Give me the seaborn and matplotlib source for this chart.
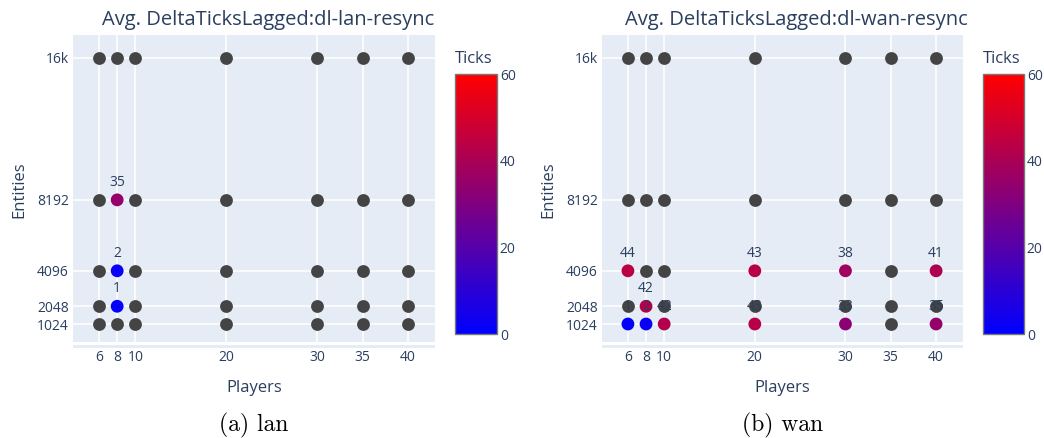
import numpy as np
import pandas as pd
import matplotlib
matplotlib.use("Agg")
import matplotlib.pyplot as plt
from matplotlib.colors import LinearSegmentedColormap, Normalize
from matplotlib.cm import ScalarMappable
from matplotlib.patches import Rectangle
import seaborn as sns

# ---- data -------------------------------------------------------------
players = [6, 8, 10, 20, 30, 35, 40]
entities = [1024, 2048, 4096, 8192, 16384]
entity_labels = ["1024", "2048", "4096", "8192", "16k"]

# Average DeltaTicksLagged per (entities, players); NaN = no lag recorded
lan_ticks = [
    # 6       8       10      20      30      35      40
    [np.nan, np.nan, np.nan, np.nan, np.nan, np.nan, np.nan],  # 1024
    [np.nan, 1,      np.nan, np.nan, np.nan, np.nan, np.nan],  # 2048
    [np.nan, 2,      np.nan, np.nan, np.nan, np.nan, np.nan],  # 4096
    [np.nan, 35,     np.nan, np.nan, np.nan, np.nan, np.nan],  # 8192
    [np.nan, np.nan, np.nan, np.nan, np.nan, np.nan, np.nan],  # 16k
]
wan_ticks = [
    [1,      2,      42,     43,     33,     np.nan, 35],      # 1024
    [np.nan, 42,     np.nan, np.nan, np.nan, np.nan, np.nan],  # 2048
    [44,     np.nan, np.nan, 43,     38,     np.nan, 41],      # 4096
    [np.nan, np.nan, np.nan, np.nan, np.nan, np.nan, np.nan],  # 8192
    [np.nan, np.nan, np.nan, np.nan, np.nan, np.nan, np.nan],  # 16k
]

panels = [
    ("Avg. DeltaTicksLagged:dl-lan-resync", "(a) lan", lan_ticks),
    ("Avg. DeltaTicksLagged:dl-wan-resync", "(b) wan", wan_ticks),
]

# ---- style ------------------------------------------------------------
sns.set_style("white")
plt.rcParams["font.family"] = ["Open Sans", "DejaVu Sans"]
TXT = "#2a3f5f"
BG = "#E5ECF6"
GREY = "#444444"
cmap = LinearSegmentedColormap.from_list("bluered", ["#0000ff", "#ff0000"])
norm = Normalize(0, 60)

W, H = 1044, 438
fig = plt.figure(figsize=(W / 100, H / 100), dpi=100)


def fx(px):
    return px / W


def fy(py):
    return 1 - py / H


layout = [
    # plot-area left/right edges and colour-bar left/right edges (pixels)
    dict(l=73, r=435, cl=455, cr=497, ylab=19),
    dict(l=602, r=963, cl=983, cr=1024, ylab=548),
]
top, bottom = 35, 342

for (title, caption, values), lay in zip(panels, layout):
    ax = fig.add_axes([fx(lay["l"]), fy(bottom), fx(lay["r"] - lay["l"]),
                       (bottom - top) / H])
    ax.set_facecolor(BG)

    grid = pd.DataFrame(values, index=entities, columns=players)
    long = grid.stack(future_stack=True).rename("ticks").reset_index()
    long.columns = ["entities", "players", "ticks"]
    missing = long[long["ticks"].isna()]
    present = long[long["ticks"].notna()]

    sns.scatterplot(data=missing, x="players", y="entities", color=GREY,
                    s=85, linewidth=0, ax=ax, zorder=3, legend=False)
    sns.scatterplot(data=present, x="players", y="entities", hue="ticks",
                    palette=cmap, hue_norm=norm, s=85, linewidth=0, ax=ax,
                    zorder=3, legend=False)
    for _, row in present.iterrows():
        ax.annotate(f"{row['ticks']:g}", (row["players"], row["entities"]),
                    xytext=(0, 12.5), textcoords="offset points",
                    ha="center", va="center", fontsize=10, color=TXT,
                    zorder=5)

    ax.set_xlim(3.14, 42.97)
    ax.set_ylim(-15, 17712)
    ax.set_xticks(players)
    ax.set_yticks(entities)
    ax.set_yticklabels(entity_labels)
    ax.grid(True, color="white", linewidth=1.1, zorder=0)
    ax.set_axisbelow(True)
    for sp in ax.spines.values():
        sp.set_visible(False)
    ax.tick_params(length=0, labelsize=10, labelcolor=TXT, pad=3)
    ax.tick_params(axis="x", pad=6)
    ax.set_xlabel("Players", fontsize=12, color=TXT)
    ax.xaxis.set_label_coords(0.5, -(388 - bottom) / (bottom - top),
                              transform=ax.transAxes)
    ax.xaxis.label.set_va("center")
    ax.set_ylabel("Entities", fontsize=12, color=TXT)
    ax.yaxis.set_label_coords((lay["ylab"] - lay["l"]) / (lay["r"] - lay["l"]),
                              (bottom - 190) / (bottom - top))
    ax.yaxis.label.set_va("center")

    # title above the plot area
    fig.text(fx((lay["l"] + lay["r"]) / 2 + 14), fy(20), title,
             ha="center", va="center", fontsize=14.5, color=TXT)

    # thin band under the plot area
    fig.patches.append(Rectangle((fx(lay["l"]), fy(348)),
                                 fx(lay["r"] - lay["l"]), 3 / H,
                                 transform=fig.transFigure,
                                 facecolor=BG, edgecolor="none"))

    # colour bar
    cax = fig.add_axes([fx(lay["cl"]), fy(334), fx(lay["cr"] - lay["cl"]),
                        (334 - 74) / H])
    cb = fig.colorbar(ScalarMappable(norm=norm, cmap=cmap), cax=cax)
    cb.set_ticks([0, 20, 40, 60])
    cb.outline.set_edgecolor("#777777")
    cb.outline.set_linewidth(1)
    cax.tick_params(length=0, labelsize=10, labelcolor=TXT, pad=2)
    fig.text(fx(lay["cl"]), fy(59), "Ticks", ha="left", va="center",
             fontsize=12, color=TXT)

    # caption under the panel
    fig.text(fx((lay["l"] + lay["r"]) / 2), fy(425), caption,
             ha="center", va="center", fontsize=17, family="cmr10",
             color="black")

fig.savefig("out.png", dpi=100)
